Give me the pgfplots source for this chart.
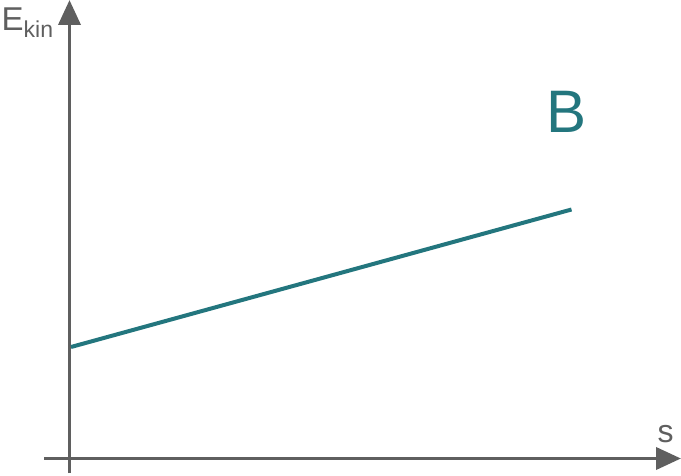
\documentclass[border=0pt]{standalone}
\usepackage{pgfplots}
\pgfplotsset{compat=1.18}
\usepackage{fontspec}
\setmainfont{Liberation Sans}
\usetikzlibrary{arrows.meta}

\definecolor{axisgray}{HTML}{5F5F5F}
\definecolor{tealline}{HTML}{23767E}

\begin{document}
\begin{tikzpicture}
    \begin{axis}[
        x=1pt, y=1pt,                 % 1 unit = 1 pixel
        xmin=-25.5, xmax=611.5,
        ymin=-14.5, ymax=458.5,
        axis lines=middle,
        axis line style={
            -{Triangle[length=25pt,width=22pt]},
            line width=3.8pt,
            color=axisgray,
        },
        xtick=\empty, ytick=\empty,
        clip=false,
    ]

    \addplot [tealline, line width=4pt] coordinates {
        (1.5, 111.5)
        (502, 249)
    };

    % labels
    \node[anchor=base west, text=axisgray, inner sep=0pt,
          font=\fontsize{33}{36}\selectfont]
        at (axis cs:-68, 427.8) {E\raisebox{-7pt}{\fontsize{23}{24}\selectfont kin}};
    \node[anchor=base, text=axisgray, inner sep=0pt,
          font=\fontsize{32}{36}\selectfont]
        at (axis cs:596, 16.5) {s};
    \node[anchor=base, text=tealline, inner sep=0pt,
          font=\fontsize{60}{64}\selectfont]
        at (axis cs:497.5, 326.5) {B};

    \coordinate (bl) at (axis cs:-69.5, -16.5);
    \coordinate (tr) at (axis cs:611.5, 458.5);
    \end{axis}
    \pgfresetboundingbox
    \path[use as bounding box] (bl) rectangle (tr);
\end{tikzpicture}
\end{document}
